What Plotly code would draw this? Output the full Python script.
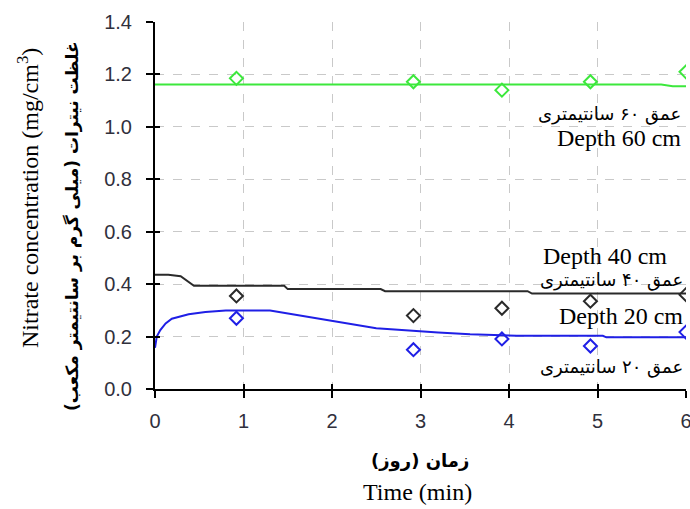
import plotly.graph_objects as go

# ---------------- data ----------------
obs_x = [0.92, 2.92, 3.92, 4.92, 6.0]
obs60 = [1.185, 1.172, 1.140, 1.172, 1.21]
obs40 = [0.355, 0.280, 0.308, 0.335, 0.360]
obs20 = [0.270, 0.150, 0.191, 0.164, 0.217]

sim60_x = [0.0, 5.72, 5.85, 6.0]
sim60_y = [1.162, 1.162, 1.155, 1.155]

sim40_x = [0.0, 0.15, 0.29, 0.44, 1.46, 1.50, 2.55, 2.60, 4.21, 4.26, 6.0]
sim40_y = [0.436, 0.436, 0.430, 0.394, 0.394, 0.381, 0.381, 0.373, 0.373, 0.364, 0.364]

sim20_x = [0.0, 0.02, 0.06, 0.12, 0.19, 0.38, 0.57, 0.80, 1.30, 1.50, 2.00, 2.50, 3.20, 3.56, 4.09, 5.06, 5.10, 6.0]
sim20_y = [0.157, 0.200, 0.225, 0.250, 0.268, 0.285, 0.294, 0.299, 0.299, 0.288, 0.262, 0.232, 0.216, 0.209, 0.203, 0.203, 0.197, 0.197]

x_ticks = [0, 1, 2, 3, 4, 5, 6]
y_ticks = [0.0, 0.2, 0.4, 0.6, 0.8, 1.0, 1.2, 1.4]
y_ticklabels = ["0.0", "0.2", "0.4", "0.6", "0.8", "1.0", "1.2", "1.4"]

GREEN = "#3ce83c"
BLACK = "#2a2a2a"
BLUE = "#1f1fe6"
SERIF = "Liberation Serif, Times New Roman, serif"
FA = "DejaVu Sans, Noto Sans, sans-serif"

W, H = 690, 509
ML, MR, MT, MB = 155, 4, 22, 120
X0, X1 = ML, W - MR
Y0, Y1 = H - MB, MT  # pixel rows of y=0 and y=1.4

fig = go.Figure()

for x, y, c in [(sim60_x, sim60_y, GREEN), (sim40_x, sim40_y, BLACK), (sim20_x, sim20_y, BLUE)]:
    fig.add_trace(go.Scatter(x=x, y=y, mode="lines", line=dict(color=c, width=2),
                             showlegend=False, hoverinfo="skip"))

for y, c in [(obs60, GREEN), (obs40, BLACK), (obs20, BLUE)]:
    fig.add_trace(go.Scatter(x=obs_x, y=y, mode="markers",
                             marker=dict(symbol="diamond-open", size=10, color=c, line=dict(width=2, color=c)),
                             showlegend=False))

# invisible trace for overlay axes (inside tick halves)
fig.add_trace(go.Scatter(x=[0], y=[0], xaxis="x2", yaxis="y2", mode="markers",
                         marker=dict(opacity=0), showlegend=False, hoverinfo="skip"))

axis_common = dict(showline=True, linecolor="black", linewidth=2, ticks="outside",
                   ticklen=7, tickwidth=2, tickcolor="black", zeroline=False,
                   showgrid=True, gridcolor="#c9c9c9", gridwidth=1, griddash="dash",
                   ticklabeloverflow="allow", automargin=False,
                   tickfont=dict(family="Liberation Sans, Arial, sans-serif", size=20, color="#30303c"))

fig.update_layout(
    width=W, height=H,
    margin=dict(l=ML, r=MR, t=MT, b=MB, autoexpand=False),
    paper_bgcolor="white", plot_bgcolor="white",
    xaxis=dict(range=[0, 6], tickvals=x_ticks, ticktext=[str(v) for v in x_ticks],
               ticklabelstandoff=6, **axis_common),
    yaxis=dict(range=[0, 1.4], tickvals=y_ticks, ticktext=y_ticklabels,
               ticklabelstandoff=10, **axis_common),
    xaxis2=dict(overlaying="x", range=[0, 6], tickvals=x_ticks, ticks="inside", ticklen=5,
                tickwidth=2, tickcolor="black", showticklabels=False, showgrid=False,
                showline=False, zeroline=False, side="bottom", automargin=False),
    yaxis2=dict(overlaying="y", range=[0, 1.4], tickvals=y_ticks, ticks="inside", ticklen=5,
                tickwidth=2, tickcolor="black", showticklabels=False, showgrid=False,
                showline=False, zeroline=False, side="left", automargin=False),
    showlegend=False,
)

ann = []
# axis titles
ann.append(dict(text="Nitrate concentration (mg/cm<sup>3</sup>)", x=28, y=198, textangle=-90,
                font=dict(family=SERIF, size=24, color="black")))
ann.append(dict(text="<b>غلظت نیترات (میلی گرم بر سانتیمتر مکعب)</b>", x=72, y=226, textangle=-90,
                font=dict(family=FA, size=17, color="black")))
ann.append(dict(text="<b>زمان (روز)</b>", x=420, y=461, font=dict(family=FA, size=18, color="black")))
ann.append(dict(text="Time (min)", x=417, y=492, font=dict(family=SERIF, size=24, color="black")))

# series labels (right aligned)
ann.append(dict(text="عمق ۶۰ سانتیمتری", x=683, y=114, xanchor="right", font=dict(family=FA, size=18, color="black")))
ann.append(dict(text="Depth 60 cm", x=683, y=138, xanchor="right", font=dict(family=SERIF, size=24, color="black")))
ann.append(dict(text="Depth 40 cm", x=669, y=256, xanchor="right", font=dict(family=SERIF, size=24, color="black")))
ann.append(dict(text="عمق ۴۰ سانتیمتری", x=685, y=280, xanchor="right", font=dict(family=FA, size=18, color="black")))
ann.append(dict(text="Depth 20 cm", x=685, y=316, xanchor="right", font=dict(family=SERIF, size=24, color="black")))
ann.append(dict(text="عمق ۲۰ سانتیمتری", x=685, y=367, xanchor="right", font=dict(family=FA, size=18, color="black")))

for a in ann:
    px, py = a.pop("x"), a.pop("y")
    a.setdefault("xanchor", "center")
    fig.add_annotation(x=(px - X0) / (X1 - X0), y=(Y0 - py) / (Y0 - Y1),
                       xref="paper", yref="paper", yanchor="middle", showarrow=False, **a)

fig.write_html("out.html", config={"displayModeBar": False},
               post_script="document.body.style.margin='0';")
